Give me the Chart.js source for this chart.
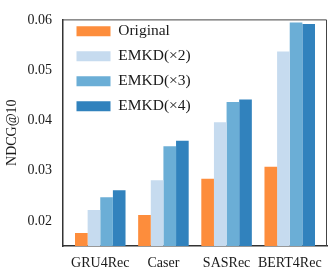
<!DOCTYPE html>
<html>
<head>
<meta charset="utf-8">
<script src="https://cdn.jsdelivr.net/npm/chart.js@4/dist/chart.umd.min.js"></script>
<style>
  html, body { margin: 0; padding: 0; background: #fff; }
  #wrap { width: 332px; height: 278px; position: relative; }
</style>
</head>
<body>
<div id="wrap"><canvas id="c"></canvas></div>
<script>
const categories = ['GRU4Rec', 'Caser', 'SASRec', 'BERT4Rec'];
const seriesNames = ['Original', 'EMKD(×2)', 'EMKD(×3)', 'EMKD(×4)'];
const original = [0.0176, 0.0212, 0.0284, 0.0308];
const emkd2 = [0.0222, 0.0281, 0.0397, 0.0538];
const emkd3 = [0.0247, 0.0349, 0.0437, 0.0596];
const emkd4 = [0.0261, 0.0360, 0.0442, 0.0593];
const yTicks = [0.02, 0.03, 0.04, 0.05, 0.06];
const yTickLabels = ['0.02', '0.03', '0.04', '0.05', '0.06'];
const yTitle = 'NDCG@10';

const colors = ['#fd8d3c', '#c6dbef', '#6baed6', '#3182bd'];
const allSeries = [original, emkd2, emkd3, emkd4];
const FONT = "'Liberation Serif', 'Times New Roman', serif";
const TEXT = '#1a1a1a';

const framePlugin = {
  id: 'frame',
  afterLayout(chart) {
    const lg = chart.legend;
    if (lg) {
      lg.top = chart.chartArea.top - 5.5;
      lg.left = chart.chartArea.left + 4;
    }
  },
  afterDraw(chart) {
    const a = chart.chartArea, ctx = chart.ctx;
    ctx.save();
    ctx.strokeStyle = '#444';
    ctx.lineWidth = 1;
    ctx.beginPath();
    ctx.moveTo(a.left, a.top + 0.5);
    ctx.lineTo(a.right - 0.5, a.top + 0.5);
    ctx.lineTo(a.right - 0.5, a.bottom);
    ctx.stroke();
    ctx.restore();
  }
};

new Chart(document.getElementById('c'), {
  type: 'bar',
  data: {
    datasets: allSeries.map((vals, k) => ({
      label: seriesNames[k],
      data: vals.map((v, i) => ({ x: i, y: v })),
      backgroundColor: colors[k],
      borderWidth: 0,
      categoryPercentage: 0.8,
      barPercentage: 1.0
    }))
  },
  options: {
    responsive: true,
    maintainAspectRatio: false,
    animation: false,
    layout: { padding: { top: 12, right: 5, left: 0, bottom: 0 } },
    plugins: {
      tooltip: { enabled: false },
      legend: {
        position: 'chartArea',
        align: 'start',
        labels: {
          boxWidth: 34,
          boxHeight: 10,
          padding: 9.5,
          color: TEXT,
          font: { family: FONT, size: 15.5 }
        }
      }
    },
    scales: {
      x: {
        type: 'linear',
        offset: false,
        min: -0.59,
        max: 3.59,
        grid: { display: false, drawTicks: false },
        border: { display: true, color: '#333', width: 1.5 },
        afterBuildTicks: s => { s.ticks = categories.map((c, i) => ({ value: i })); },
        afterFit: s => { s.height = 32; },
        ticks: {
          padding: 9,
          color: TEXT,
          font: { family: FONT, size: 14 },
          autoSkip: false,
          maxRotation: 0,
          callback: v => categories[v]
        }
      },
      y: {
        min: 0.015,
        max: 0.0602,
        beginAtZero: false,
        grid: { display: false, drawTicks: false },
        border: { display: true, color: '#333', width: 1.5 },
        afterBuildTicks: s => { s.ticks = yTicks.map(v => ({ value: v })); },
        afterFit: s => { s.width = 63; },
        title: {
          display: true,
          text: yTitle,
          color: TEXT,
          font: { family: FONT, size: 14 },
          padding: { top: 4, bottom: 4 }
        },
        ticks: {
          padding: 11,
          color: TEXT,
          font: { family: FONT, size: 14 },
          callback: v => yTickLabels[yTicks.indexOf(v)]
        }
      }
    }
  },
  plugins: [framePlugin]
});
</script>
</body>
</html>
